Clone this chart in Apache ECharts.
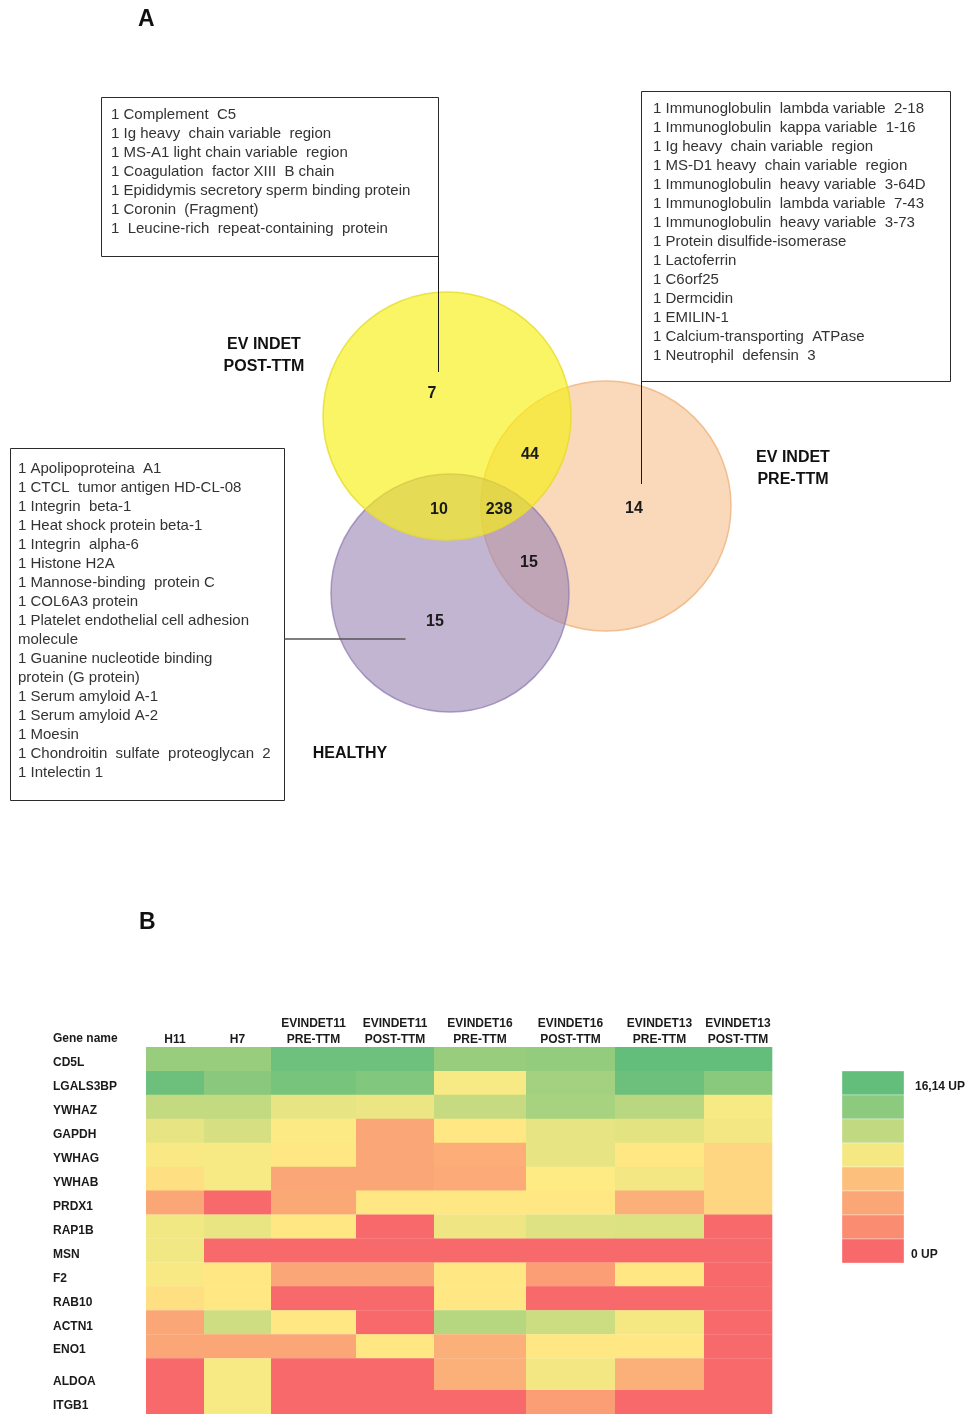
<!DOCTYPE html>
<html>
<head>
<meta charset="utf-8">
<script src="https://cdn.jsdelivr.net/npm/echarts@6/dist/echarts.min.js"></script>
<style>
  html, body { margin: 0; padding: 0; background: #ffffff; }
  #chart { width: 968px; height: 1414px; }
</style>
</head>
<body>
<div id="chart"></div>
<script>
// ---------- Panel A: Venn diagram data ----------
const vennSets = ['EV INDET\nPOST-TTM', 'EV INDET\nPRE-TTM', 'HEALTHY'];
// post only, pre only, healthy only, post∩pre, post∩healthy, pre∩healthy, all three
const vennRegions = ['POST', 'PRE', 'HEALTHY', 'POST∩PRE', 'POST∩HEALTHY', 'PRE∩HEALTHY', 'ALL'];
const vennCounts = [7, 14, 15, 44, 10, 15, 238];

const postOnlyProteins = [
  'Complement  C5',
  'Ig heavy  chain variable  region',
  'MS-A1 light chain variable  region',
  'Coagulation  factor XIII  B chain',
  'Epididymis secretory sperm binding protein',
  'Coronin  (Fragment)',
  ' Leucine-rich  repeat-containing  protein'
];
const preOnlyProteins = [
  'Immunoglobulin  lambda variable  2-18',
  'Immunoglobulin  kappa variable  1-16',
  'Ig heavy  chain variable  region',
  'MS-D1 heavy  chain variable  region',
  'Immunoglobulin  heavy variable  3-64D',
  'Immunoglobulin  lambda variable  7-43',
  'Immunoglobulin  heavy variable  3-73',
  'Protein disulfide-isomerase',
  'Lactoferrin',
  'C6orf25',
  'Dermcidin',
  'EMILIN-1',
  'Calcium-transporting  ATPase',
  'Neutrophil  defensin  3'
];
const healthyOnlyProteins = [
  'Apolipoproteina  A1',
  'CTCL  tumor antigen HD-CL-08',
  'Integrin  beta-1',
  'Heat shock protein beta-1',
  'Integrin  alpha-6',
  'Histone H2A',
  'Mannose-binding  protein C',
  'COL6A3 protein',
  'Platelet endothelial cell adhesion\nmolecule',
  'Guanine nucleotide binding\nprotein (G protein)',
  'Serum amyloid A-1',
  'Serum amyloid A-2',
  'Moesin',
  'Chondroitin  sulfate  proteoglycan  2',
  'Intelectin 1'
];
const proteinCount = 1;

// ---------- Panel B: heatmap data ----------
const heatColumns = ['H11', 'H7', 'EVINDET11\nPRE-TTM', 'EVINDET11\nPOST-TTM',
  'EVINDET16\nPRE-TTM', 'EVINDET16\nPOST-TTM', 'EVINDET13\nPRE-TTM', 'EVINDET13\nPOST-TTM'];
const genes = ['CD5L', 'LGALS3BP', 'YWHAZ', 'GAPDH', 'YWHAG', 'YWHAB', 'PRDX1', 'RAP1B',
  'MSN', 'F2', 'RAB10', 'ACTN1', 'ENO1', 'ALDOA', 'ITGB1'];
// UP values per gene (rows) and sample (columns)
const upCD5L     = [13.4, 13.4, 15.6, 15.6, 13.4, 13.6, 16.14, 16.14];
const upLGALS3BP = [15.7, 14.1, 15.1, 14.6, 8.5, 12.8, 15.7, 14.2];
const upYWHAZ    = [11.1, 11.1, 9.3, 9.1, 11.0, 12.6, 11.7, 8.5];
const upGAPDH    = [9.3, 10.2, 8.2, 3.8, 7.9, 9.3, 9.5, 8.7];
const upYWHAG    = [8.4, 8.5, 7.9, 3.8, 4.2, 9.3, 7.9, 6.7];
const upYWHAB    = [7.3, 8.5, 3.8, 3.8, 4.1, 8.1, 8.7, 6.7];
const upPRDX1    = [3.8, 0, 3.9, 7.9, 7.9, 7.9, 4.4, 6.7];
const upRAP1B    = [8.8, 9.2, 7.9, 0, 8.9, 9.7, 9.9, 0];
const upMSN      = [8.8, 0, 0, 0, 0, 0, 0, 0];
const upF2       = [8.4, 7.9, 3.8, 3.8, 7.9, 3.3, 7.9, 0];
const upRAB10    = [7.3, 7.9, 0, 0, 7.9, 0, 0, 0];
const upACTN1    = [3.8, 10.6, 7.9, 0, 11.8, 10.7, 8.6, 0];
const upENO1     = [3.8, 3.8, 3.8, 7.9, 4.4, 7.9, 7.9, 0];
const upALDOA    = [0, 8.5, 0, 0, 4.4, 8.7, 4.4, 0];
const upITGB1    = [0, 8.5, 0, 0, 0, 3.3, 0, 0];
const upRows = [upCD5L, upLGALS3BP, upYWHAZ, upGAPDH, upYWHAG, upYWHAB, upPRDX1, upRAP1B,
  upMSN, upF2, upRAB10, upACTN1, upENO1, upALDOA, upITGB1];

const upMax = 16.14;
const legendSteps = [16.14, 14.0, 11.3, 8.6, 5.4, 3.8, 2.2, 0];
const legendLabels = ['16,14 UP', '0 UP'];

// ---------- layout ----------
const LABEL_FONT = '"Liberation Sans", Arial, sans-serif';
const colWeights = [58, 67, 85, 78, 92, 89, 89, 68];
const rowWeights = [24, 24, 24, 24, 24, 24, 24, 24, 24, 24, 24, 24, 24, 32, 24];
const colEdges = colWeights.reduce((a, w) => (a.push(a[a.length - 1] + w), a), [0]);
const rowEdges = rowWeights.reduce((a, h) => (a.push(a[a.length - 1] + h), a), [0]);

const vennLayout = {
  circles: [
    { cx: 447, cy: 416, r: 124, fill: 'rgba(247,240,17,0.65)', stroke: 'rgba(230,220,40,0.8)' },
    { cx: 606, cy: 506, r: 125, fill: 'rgba(246,184,130,0.55)', stroke: 'rgba(240,185,135,0.9)' },
    { cx: 450, cy: 593, r: 119, fill: 'rgba(153,132,180,0.6)', stroke: 'rgba(140,120,175,0.7)' }
  ],
  drawOrder: [1, 2, 0],
  setLabels: [[264, 356], [793, 469], [350, 754]],
  regionLabels: [[432, 394], [634, 509], [435, 622], [530, 455], [439, 510], [529, 563], [499, 510]],
  boxes: [
    { x0: 101, y0: 97, x1: 438, y1: 256, tx: 111, ty: 115, line: [[438, 256], [438, 372]] },
    { x0: 641, y0: 91, x1: 950, y1: 381, tx: 653, ty: 109, line: [[641, 381], [641, 484]] },
    { x0: 10, y0: 448, x1: 284, y1: 800, tx: 18, ty: 469, line: [[284, 639], [405, 639]] }
  ]
};
const boxLists = [postOnlyProteins, preOnlyProteins, healthyOnlyProteins];

const heatData = [];
upRows.forEach((row, r) => row.forEach((v, c) => heatData.push([c, r, v])));

const chart = echarts.init(document.getElementById('chart'), null, { renderer: 'canvas' });

const option = {
  backgroundColor: '#ffffff',
  animation: false,
  title: [
    { text: 'A', left: 138, top: 8, padding: 0, textStyle: { fontFamily: LABEL_FONT, fontWeight: 'bold', fontSize: 23, color: '#111' } },
    { text: 'B', left: 139, top: 911, padding: 0, textStyle: { fontFamily: LABEL_FONT, fontWeight: 'bold', fontSize: 23, color: '#111' } }
  ],
  grid: [
    { left: 0, top: 0, width: 968, height: 860 },
    { left: 146, top: 1047, width: colEdges[colEdges.length - 1], height: rowEdges[rowEdges.length - 1] },
    { left: 842, top: 1071, width: 62, height: 192 }
  ],
  xAxis: [
    { type: 'value', gridIndex: 0, min: 0, max: 968, show: false },
    { type: 'value', gridIndex: 1, min: 0, max: colEdges[colEdges.length - 1], show: false },
    { type: 'value', gridIndex: 2, min: 0, max: 1, show: false }
  ],
  yAxis: [
    { type: 'value', gridIndex: 0, min: 0, max: 860, inverse: true, show: false },
    { type: 'value', gridIndex: 1, min: 0, max: rowEdges[rowEdges.length - 1], inverse: true, show: false },
    { type: 'value', gridIndex: 2, min: 0, max: legendSteps.length, inverse: true, show: false }
  ],
  visualMap: {
    type: 'continuous',
    show: false,
    min: 0,
    max: upMax,
    dimension: 2,
    seriesIndex: [4, 7],
    inRange: { color: ['#f8696b', '#ffeb84', '#63be7b'] }
  },
  series: [
    // Venn circles
    {
      type: 'custom', name: 'sets', xAxisIndex: 0, yAxisIndex: 0, silent: true,
      data: vennLayout.drawOrder.map(i => ({ name: vennSets[i], value: [i, i] })),
      renderItem(params, api) {
        const c = vennLayout.circles[vennLayout.drawOrder[params.dataIndex]];
        const p = api.coord([c.cx, c.cy]);
        const r = api.size([c.r, 0])[0];
        return {
          type: 'circle',
          shape: { cx: p[0], cy: p[1], r },
          style: { fill: c.fill, stroke: c.stroke, lineWidth: 1.5 }
        };
      }
    },
    // region counts
    {
      type: 'custom', name: 'counts', xAxisIndex: 0, yAxisIndex: 0, silent: true, z: 5,
      data: vennCounts.map((v, i) => ({ name: vennRegions[i], value: [i, v] })),
      renderItem(params, api) {
        const pos = vennLayout.regionLabels[params.dataIndex];
        const p = api.coord(pos);
        return {
          type: 'text',
          style: {
            x: p[0], y: p[1], text: String(vennCounts[params.dataIndex]),
            align: 'center', verticalAlign: 'middle',
            font: 'bold 16px ' + LABEL_FONT, fill: '#1a1a1a'
          }
        };
      }
    },
    // set names
    {
      type: 'custom', name: 'setNames', xAxisIndex: 0, yAxisIndex: 0, silent: true, z: 5,
      data: vennSets.map((s, i) => ({ name: s, value: [i, i] })),
      renderItem(params, api) {
        const p = api.coord(vennLayout.setLabels[params.dataIndex]);
        return {
          type: 'text',
          style: {
            x: p[0], y: p[1], text: vennSets[params.dataIndex],
            align: 'center', verticalAlign: 'middle', lineHeight: 22,
            font: 'bold 16px ' + LABEL_FONT, fill: '#111'
          }
        };
      }
    },
    // unique-protein boxes with connectors
    {
      type: 'custom', name: 'uniqueProteins', xAxisIndex: 0, yAxisIndex: 0, silent: true, z: 6,
      data: boxLists.map((l, i) => ({ name: vennRegions[i], value: [i, l.length] })),
      renderItem(params, api) {
        const b = vennLayout.boxes[params.dataIndex];
        const list = boxLists[params.dataIndex];
        const a = api.coord([b.x0, b.y0]);
        const z = api.coord([b.x1, b.y1]);
        const t = api.coord([b.tx, b.ty]);
        const l0 = api.coord(b.line[0]);
        const l1 = api.coord(b.line[1]);
        return {
          type: 'group',
          children: [
            {
              type: 'rect',
              shape: { x: a[0] + 0.5, y: a[1] + 0.5, width: z[0] - a[0], height: z[1] - a[1] },
              style: { fill: '#ffffff', stroke: '#2b2b2b', lineWidth: 1 }
            },
            {
              type: 'line',
              shape: { x1: l0[0] + 0.5, y1: l0[1], x2: l1[0] + 0.5, y2: l1[1] },
              style: { stroke: params.dataIndex === 2 ? '#555555' : '#1a1a1a', lineWidth: params.dataIndex === 2 ? 1.5 : 1 }
            },
            {
              type: 'text',
              style: {
                x: t[0], y: t[1] - 9.5,
                text: list.map(p => proteinCount + ' ' + p).join('\n'),
                align: 'left', verticalAlign: 'top', lineHeight: 19,
                font: '15px ' + LABEL_FONT, fill: '#333333'
              }
            }
          ]
        };
      }
    },
    // heatmap cells
    {
      type: 'custom', name: 'UP', xAxisIndex: 1, yAxisIndex: 1, silent: true,
      encode: { x: 0, y: 1 },
      data: heatData,
      renderItem(params, api) {
        const c = api.value(0), r = api.value(1);
        const p0 = api.coord([colEdges[c], rowEdges[r]]);
        const p1 = api.coord([colEdges[c + 1], rowEdges[r + 1]]);
        return {
          type: 'rect',
          shape: { x: p0[0], y: p0[1], width: p1[0] - p0[0] + 0.3, height: p1[1] - p0[1] + 0.3 },
          style: { fill: api.visual('color') }
        };
      }
    },
    // column headers
    {
      type: 'custom', name: 'columns', xAxisIndex: 1, yAxisIndex: 1, silent: true,
      data: heatColumns.map((n, i) => ({ name: n, value: [i, 0] })),
      renderItem(params, api) {
        const i = params.dataIndex;
        const p = api.coord([(colEdges[i] + colEdges[i + 1]) / 2, 0]);
        const children = [{
          type: 'text',
          style: {
            x: p[0], y: p[1] + 1, text: heatColumns[i],
            align: 'center', verticalAlign: 'bottom', lineHeight: 16,
            font: 'bold 12px ' + LABEL_FONT, fill: '#1a1a1a'
          }
        }];
        if (i === 0) {
          const g = api.coord([0, 0]);
          children.push({
            type: 'text',
            style: {
              x: g[0] - 93, y: g[1] - 8, text: 'Gene name',
              align: 'left', verticalAlign: 'middle',
              font: 'bold 12px ' + LABEL_FONT, fill: '#1a1a1a'
            }
          });
        }
        return { type: 'group', children };
      }
    },
    // gene names
    {
      type: 'custom', name: 'genes', xAxisIndex: 1, yAxisIndex: 1, silent: true,
      data: genes.map((g, i) => ({ name: g, value: [0, i] })),
      renderItem(params, api) {
        const i = params.dataIndex;
        const p = api.coord([0, rowEdges[i + 1]]);
        return {
          type: 'text',
          style: {
            x: p[0] - 93, y: p[1] - 8, text: genes[i],
            align: 'left', verticalAlign: 'middle',
            font: 'bold 12px ' + LABEL_FONT, fill: '#1a1a1a'
          }
        };
      }
    },
    // colour key
    {
      type: 'custom', name: 'key', xAxisIndex: 2, yAxisIndex: 2, silent: true,
      encode: { x: 0, y: 1 },
      data: legendSteps.map((v, k) => [0, k, v]),
      renderItem(params, api) {
        const k = api.value(1);
        const p0 = api.coord([0, k]);
        const p1 = api.coord([1, k + 1]);
        const children = [{
          type: 'rect',
          shape: { x: p0[0], y: p0[1], width: p1[0] - p0[0], height: p1[1] - p0[1] },
          style: { fill: api.visual('color'), stroke: 'rgba(255,255,255,0.35)', lineWidth: 1 }
        }];
        const lbl = k === 0 ? legendLabels[0] : (k === legendSteps.length - 1 ? legendLabels[1] : null);
        if (lbl) {
          children.push({
            type: 'text',
            style: {
              x: p1[0] + (k === 0 ? 11 : 7), y: (p0[1] + p1[1]) / 2 + 4, text: lbl,
              align: 'left', verticalAlign: 'middle',
              font: 'bold 12px ' + LABEL_FONT, fill: '#1a1a1a'
            }
          });
        }
        return { type: 'group', children };
      }
    }
  ]
};

chart.setOption(option);
</script>
</body>
</html>
